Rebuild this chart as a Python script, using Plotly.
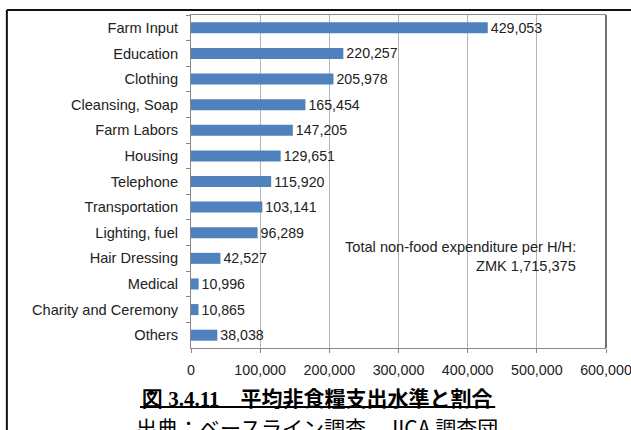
import plotly.graph_objects as go

# Average non-food expenditure per household, by item (ZMK)
categories = [
    "Farm Input", "Education", "Clothing", "Cleansing, Soap", "Farm Labors",
    "Housing", "Telephone", "Transportation", "Lighting, fuel", "Hair Dressing",
    "Medical", "Charity and Ceremony", "Others",
]
values = [
    429053, 220257, 205978, 165454, 147205,
    129651, 115920, 103141, 96289, 42527,
    10996, 10865, 38038,
]
x_ticks = [0, 100000, 200000, 300000, 400000, 500000, 600000]
total_lines = ["Total non-food expenditure per H/H:", "ZMK 1,715,375"]
caption_no = "図 3.4.11"
caption_title = "平均非食糧支出水準と割合"
source = "出典：ベースライン調査、JICA 調査団"

W, H = 631, 430
L, R, T, B = 191, 605.7, 15, 348  # plot-area pixel bounds
SANS = "Liberation Sans, Arial"


def px(xp):
    return (xp - L) / (R - L)


def py(yp):
    return (B - yp) / (B - T)


fig = go.Figure(
    go.Bar(
        y=categories,
        x=values,
        orientation="h",
        width=0.43,
        marker=dict(color="#4F81BD", line=dict(width=0)),
        text=[f"{v:,}" for v in values],
        textposition="outside",
        constraintext="none",
        cliponaxis=False,
        textfont=dict(family=SANS, size=14.2, color="#222"),
        hoverinfo="skip",
    )
)

fig.update_layout(
    width=W,
    height=H,
    margin=dict(l=L, r=W - R, t=T, b=H - B, autoexpand=False),
    paper_bgcolor="white",
    plot_bgcolor="white",
    showlegend=False,
    font=dict(family=SANS, size=14, color="#222"),
    xaxis=dict(
        range=[0, 600000],
        tickvals=x_ticks,
        ticktext=[f"{t:,}" for t in x_ticks],
        showgrid=True,
        gridcolor="#b4b4b4",
        gridwidth=1,
        zeroline=False,
        showline=True,
        linecolor="#888",
        linewidth=1,
        mirror=True,
        ticks="outside",
        ticklen=4,
        tickcolor="#888",
        ticklabelstandoff=5,
        ticklabeloverflow="allow",
        automargin=False,
        tickfont=dict(family=SANS, size=14.3, color="#222"),
        fixedrange=True,
    ),
    yaxis=dict(
        autorange="reversed",
        showline=True,
        linecolor="#888",
        linewidth=1,
        ticks="outside",
        tickson="boundaries",
        ticklen=4,
        tickcolor="#888",
        ticklabelstandoff=9,
        automargin=False,
        showgrid=False,
        tickfont=dict(family=SANS, size=14.6, color="#222"),
        fixedrange=True,
    ),
)

shapes = [
    # right edge of the plot area
    dict(type="line", xref="paper", yref="paper", x0=1, x1=1, y0=0, y1=1,
         line=dict(color="#111", width=1.2)),
    # outer frame around figure and caption
    dict(type="line", xref="paper", yref="paper", x0=px(7), x1=px(640),
         y0=py(10), y1=py(10), line=dict(color="#111", width=2)),
    dict(type="line", xref="paper", yref="paper", x0=px(7), x1=px(7),
         y0=py(10), y1=py(440), line=dict(color="#111", width=2)),
    # caption underline
    dict(type="line", xref="paper", yref="paper", x0=px(140), x1=px(495),
         y0=py(407), y1=py(407), line=dict(color="#000", width=2)),
]
fig.update_layout(shapes=shapes)

annotations = [
    dict(text=total_lines[0], x=px(578), y=py(247), xref="paper", yref="paper",
         xanchor="right", yanchor="middle", showarrow=False,
         font=dict(family=SANS, size=14.6, color="#222")),
    dict(text=total_lines[1], x=px(578), y=py(266), xref="paper", yref="paper",
         xanchor="right", yanchor="middle", showarrow=False,
         font=dict(family=SANS, size=14.6, color="#222")),
    dict(
        text=('<b><span style="font-family:Liberation Serif, Times New Roman">'
              + caption_no + "</span>　" + caption_title + "</b>"),
        x=px(317), y=py(397), xref="paper", yref="paper",
        xanchor="center", yanchor="middle", showarrow=False,
        font=dict(family="Noto Sans CJK JP", size=21, color="#000"),
    ),
    dict(
        text=source, x=px(317), y=py(427), xref="paper", yref="paper",
        xanchor="center", yanchor="middle", showarrow=False,
        font=dict(family="Noto Sans CJK JP", size=21, color="#000"),
    ),
]
fig.update_layout(annotations=annotations)

fig.write_html("out.html", config={"displayModeBar": False})
